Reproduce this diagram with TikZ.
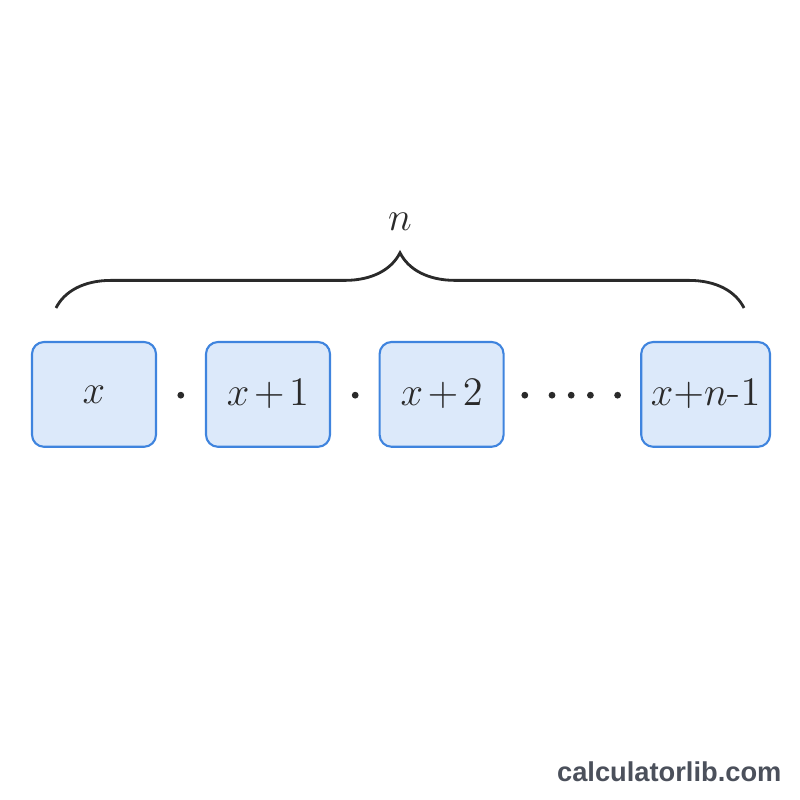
\documentclass[tikz,border=0pt]{standalone}
\usepackage{fontspec}
\newfontfamily\wmfont{Liberation Sans}
\usetikzlibrary{decorations.pathreplacing}
\definecolor{boxline}{HTML}{3F84DE}
\definecolor{boxfill}{HTML}{DCE9FA}
\definecolor{inkdark}{HTML}{2A2A2A}
\definecolor{wmgray}{HTML}{4B505B}
\begin{document}
\begin{tikzpicture}[font=\fontsize{15}{18}\selectfont,
          term/.style={draw=boxline, fill=boxfill, line width=0.75pt, rounded corners=0.15cm,
                       minimum height=1.31cm, inner sep=0pt, text=inkdark},
          dot/.style={circle, fill=inkdark, minimum size=0.085cm, inner sep=0pt},
          brc/.style={decorate, decoration={brace, amplitude=0.69cm}, line width=1pt, draw=inkdark}]
        \useasboundingbox (0,0) rectangle (10,10);
        % factor boxes
        \node[term, minimum width=1.55cm] (f1) at (1.175,5.07) {$x$};
        \node[term, minimum width=1.55cm] (f2) at (3.35,5.07) {$x\mkern2mu{+}\mkern2mu1$};
        \node[term, minimum width=1.55cm] (f3) at (5.52,5.07) {$x\mkern2mu{+}\mkern2mu2$};
        \node[term, minimum width=1.61cm] (f4) at (8.82,5.07) {$x{+}n\mbox{-}1$};
        % multiplication dots
        \node[dot] (d1) at (2.26,5.06) {};
        \node[dot] (d2) at (4.44,5.06) {};
        \foreach \dx [count=\k] in {6.56,6.90,7.14,7.38,7.72}
          \node[dot] (e\k) at (\dx,5.06) {};
        % brace over all factors
        \coordinate (bl) at (0.7,6.15);
        \coordinate (br) at (9.3,6.15);
        \draw[brc] (bl) -- (br);
        \node[text=inkdark] (cnt) at (5.0,7.23) {$n$};
        % watermark
        \node[anchor=east, inner sep=0pt, font=\wmfont\bfseries\fontsize{9.7}{11}\selectfont, text=wmgray] (wm) at (9.775,0.35) {calculatorlib.com};
      \end{tikzpicture}
\end{document}
